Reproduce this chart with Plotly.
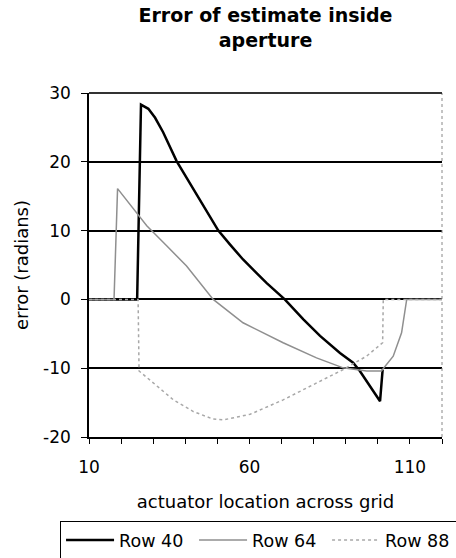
import plotly.graph_objects as go

# Row 40 (black)
row40_x = [10, 25, 26.2, 28.5, 30.6, 33.1, 37.3, 42.5, 47.7, 50.3, 53.9, 58, 65.3, 71, 76.8, 82, 88.2, 92.3, 94.4, 100.7, 101.5]
row40_y = [0, 0, 28.3, 27.7, 26.4, 24.3, 20.1, 16.0, 12.1, 10.0, 8.0, 5.8, 2.4, 0, -2.9, -5.3, -7.8, -9.2, -10.4, -14.8, -10.2]

# Row 64 (grey)
row64_x = [10, 17.8, 18.9, 23.8, 28, 34.2, 40.4, 48.7, 53.9, 58, 70.5, 80.9, 89.2, 96.5, 101.1, 104.8, 107.4, 108.4, 109, 120]
row64_y = [0, 0, 16.1, 13.1, 10.7, 7.8, 4.85, 0, -1.9, -3.4, -6.3, -8.5, -9.95, -10.4, -10.4, -8.25, -4.85, -1.9, 0, 0]

# Row 88 (dotted)
row88_x = [10, 25.3, 25.6, 30, 36.3, 42.5, 48.7, 52, 60.2, 70.5, 80.9, 89.2, 96.5, 101.5, 101.7, 120]
row88_y = [0, 0, -10.4, -12.1, -14.6, -16.3, -17.4, -17.5, -16.7, -14.6, -12.1, -10.2, -8.25, -6.3, 0, 0]

x_tickvals = [10, 60, 110]
y_tickvals = [-20, -10, 0, 10, 20, 30]
y_ticktext = ["-20", "-10", "0", "10", "20", "30"]

FONT = "Verdana, DejaVu Sans, sans-serif"

fig = go.Figure()
fig.add_trace(go.Scatter(x=row40_x, y=row40_y, mode="lines", name="Row 40",
                         line=dict(color="#000000", width=2.5)))
fig.add_trace(go.Scatter(x=row64_x, y=row64_y, mode="lines", name="Row 64",
                         line=dict(color="#8f8f8f", width=1.5)))
fig.add_trace(go.Scatter(x=row88_x, y=row88_y, mode="lines", name="Row 88",
                         line=dict(color="#a8a8a8", width=1.5, dash="dot")))

fig.update_layout(
    width=456, height=558,
    margin=dict(l=89, r=14, t=93, b=121, autoexpand=False),
    paper_bgcolor="white", plot_bgcolor="white",
    font=dict(family=FONT, size=17, color="#000000"),
    title=dict(text="<b>Error of estimate inside<br>aperture</b>",
               x=0.5, xref="paper", xanchor="center",
               y=1 - 22 / 558, yref="container", yanchor="middle",
               font=dict(family=FONT, size=19, color="#000000")),
    xaxis=dict(range=[10, 120], tickvals=x_tickvals, ticktext=[str(v) for v in x_tickvals],
               ticks="outside", ticklen=5, tickcolor="#000", tickwidth=1,
               minor=dict(dtick=10, tick0=10, ticks="outside", ticklen=5, tickcolor="#000"),
               showline=True, linecolor="#000", linewidth=2, showgrid=False, zeroline=False,
               ticklabelstandoff=9, automargin=False,
               tickfont=dict(family=FONT, size=17),
               title=dict(text="actuator location across grid", standoff=19,
                          font=dict(family=FONT, size=18))),
    yaxis=dict(range=[-20, 30], tickvals=y_tickvals, ticktext=y_ticktext,
               ticks="outside", ticklen=6, tickcolor="#000", tickwidth=1,
               showline=True, linecolor="#000", linewidth=1.5,
               showgrid=True, gridcolor="#000", gridwidth=2, zeroline=False,
               ticklabelstandoff=7, automargin=False,
               tickfont=dict(family=FONT, size=17),
               title=dict(text="error (radians)", standoff=10,
                          font=dict(family=FONT, size=18))),
    legend=dict(orientation="h", x=-0.082, xanchor="left", y=-(521 - 437) / 344, yanchor="top",
                bordercolor="#000", borderwidth=1, bgcolor="white",
                font=dict(family=FONT, size=17.5), entrywidth=70, itemwidth=48,
                tracegroupgap=0),
    showlegend=True,
)

fig.add_shape(type="line", xref="paper", yref="paper", x0=1, x1=1, y0=0, y1=1,
              line=dict(color="#888888", width=1, dash="dot"))
fig.add_shape(type="line", xref="paper", yref="paper", x0=0, x1=1, y0=1, y1=1,
              line=dict(color="#333333", width=2))

fig.write_html("out.html")
